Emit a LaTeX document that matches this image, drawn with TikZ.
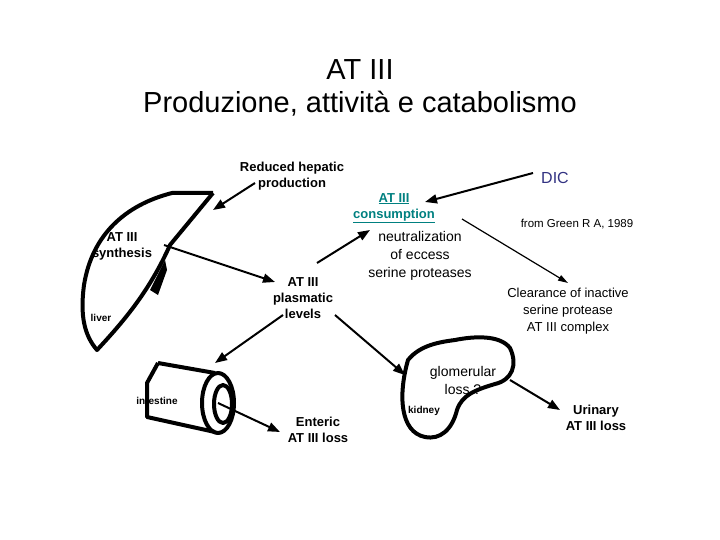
\documentclass[tikz,border=0pt]{standalone}
\usepackage{fontspec}
\setmainfont{Liberation Sans}
\usetikzlibrary{arrows.meta}
\definecolor{teal2}{RGB}{0,128,128}
\definecolor{navy2}{RGB}{50,50,130}
\begin{document}
\begin{tikzpicture}[x=1pt,y=-1pt,
 lbl/.style={align=center,font=\fontsize{13}{16}\selectfont\bfseries},
 reg/.style={align=center,font=\fontsize{14}{18}\selectfont},
 sm/.style={font=\fontsize{10}{11}\selectfont\bfseries},
 arr/.style={line width=2pt,-{Triangle[length=12pt,width=9pt]}},
 thin/.style={line width=1.2pt,-{Triangle[length=10pt,width=6pt]}},
 organ/.style={line width=4pt,line join=round}]
\useasboundingbox (0,0) rectangle (720,540);
\node[font=\fontsize{29}{32}\selectfont] (t1) at (360,70) {AT III};
\node[font=\fontsize{29}{32}\selectfont] (t2) at (360,104) {Produzione, attività e catabolismo};
% liver
\draw[organ] (213,193) -- (172,193) .. controls (125,205) and (92,235) .. (84,285) .. controls (80,315) and (84,335) .. (97,350) .. controls (125,320) and (150,290) .. (170,245) -- (213,193);
\fill (150,290) -- (165,260) -- (167,270) -- (158,295) -- cycle;
% intestine
\draw[organ] (158,363) -- (147,383) -- (147,417) -- (215,432);
\draw[organ] (158,363) -- (215,373);
\draw[organ] (218,403) ellipse (16 and 30);
\draw[organ] (223,404) ellipse (9 and 19);
% kidney
\draw[organ] (408,360) .. controls (420,345) and (440,342) .. (455,340) .. controls (475,336) and (500,335) .. (510,348) .. controls (518,365) and (512,380) .. (495,384) .. controls (475,390) and (462,395) .. (457,410) .. controls (452,430) and (440,440) .. (425,437) .. controls (400,432) and (398,395) .. (408,360) -- cycle;
% labels
\node[lbl] (rhp) at (292,176) {Reduced hepatic\\production};
\node[lbl] (syn) at (122,246) {AT III\\synthesis};
\node[sm] (liver) at (101,318) {liver};
\node[lbl] (pl) at (303,298) {AT III\\plasmatic\\levels};
\node[font=\fontsize{13}{16}\selectfont\bfseries,text=teal2,align=center] (cons) at (394,208) {\underline{AT III}\\\underline{consumption}};
\node[sm] (intl) at (157,401) {intestine};
\node[lbl] (ent) at (318,430) {Enteric\\AT III loss};
\node[font=\fontsize{16}{18}\selectfont,text=navy2] (dic) at (555,178) {DIC};
\node[font=\fontsize{11.5}{12}\selectfont] (green) at (577,224) {from Green R A, 1989};
\node[reg] (neu) at (420,256) {neutralization\\of eccess\\serine proteases};
\node[align=center,font=\fontsize{13}{17}\selectfont] (clr) at (568,311) {Clearance of inactive\\serine protease\\AT III complex};
\node[reg] (glo) at (463,380) {glomerular\\loss ?};
\node[sm] (kid) at (424,411) {kidney};
\node[lbl] (uri) at (596,418) {Urinary\\AT III loss};
% coordinates
\coordinate (lt) at (213,210);
\coordinate (ic) at (218,403);
\coordinate (k1) at (405,375);
\coordinate (k2) at (510,380);
\coordinate (i1) at (215,363);
% arrows
\draw[arr] (255,183) -- (lt);
\draw[arr] (164,245) -- (275,282);
\draw[arr] (317,263) -- (370,230);
\draw[arr] (335,315) -- (k1);
\draw[arr] (283,315) -- (i1);
\draw[arr] (ic) -- (280,432);
\draw[arr] (533,173) -- (425,202);
\draw[thin] (462,219) -- (568,283);
\draw[arr] (k2) -- (560,410);
\end{tikzpicture}
\end{document}
